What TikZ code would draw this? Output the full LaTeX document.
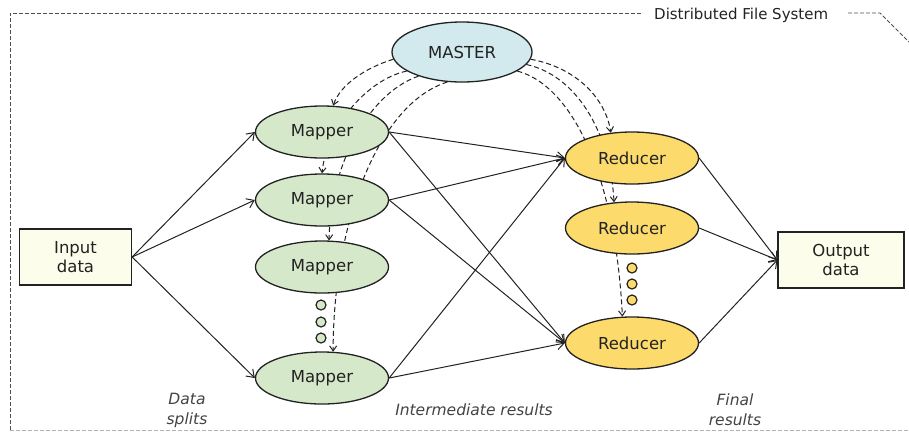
\documentclass[tikz,border=0pt]{standalone}
\usepackage{fontspec}
\setmainfont{DejaVu Sans}
\usetikzlibrary{shapes.geometric,arrows.meta,backgrounds}
\definecolor{mapfill}{HTML}{D5E8CA}
\definecolor{redfill}{HTML}{FCDB6C}
\definecolor{mastfill}{HTML}{D2EAED}
\definecolor{boxfill}{HTML}{FDFDEB}
\definecolor{ink}{HTML}{222222}
\tikzset{
  base/.style={draw=ink, line width=1.3pt, text=ink, font=\fontsize{16.5}{19}\selectfont, inner sep=0pt},
  mapper/.style={base, ellipse, fill=mapfill, minimum width=133pt, minimum height=52pt},
  reducer/.style={base, ellipse, fill=redfill, minimum width=133pt, minimum height=52pt},
  master/.style={base, ellipse, fill=mastfill, minimum width=140pt, minimum height=60pt},
  databox/.style={base, rectangle, fill=boxfill, minimum width=112pt, minimum height=56pt, align=center},
  gdot/.style={draw=ink, line width=1.2pt, circle, fill=mapfill, minimum size=10pt, inner sep=0pt},
  ydot/.style={draw=ink, line width=1.2pt, circle, fill=redfill, minimum size=10pt, inner sep=0pt},
  flow/.style={draw=ink, line width=1pt, -{Straight Barb[length=7pt,width=10pt]}},
  ctrl/.style={draw=ink, line width=1pt, dash pattern=on 5pt off 3pt, -{Straight Barb[length=5pt,width=7pt]}},
  caption/.style={text=ink!85, font=\itshape\fontsize{15.5}{20}\selectfont, align=center},
  frame/.style={draw=ink!80, line width=0.8pt, dash pattern=on 4pt off 2pt},
}
\begin{document}
\begin{tikzpicture}[x=1pt, y=-1pt]
\useasboundingbox (0,0) rectangle (909,432);

% file system frame
\coordinate (fa) at (10,430);
\coordinate (fb) at (10,13);
\coordinate (fc) at (642,13);
\coordinate (fd) at (848,13);
\coordinate (fe) at (880,13);
\coordinate (ff) at (915,48);
\coordinate (fg) at (909,430);
\node[font=\fontsize{15}{17}\selectfont, text=ink, anchor=west, inner sep=0pt] (fs) at (654,15) {Distributed File System};
\draw[frame] (fa) -- (fb) -- (fc);
\draw[frame] (fd) -- (fe) -- (ff);
\draw[draw=ink!35, line width=0.8pt, dash pattern=on 4pt off 2pt] (fa) -- (fg);

% nodes
\node[master] (ms) at (462,52) {MASTER};
\node[mapper] (m1) at (322,132) {Mapper};
\node[mapper] (m2) at (322,200) {Mapper};
\node[mapper] (m3) at (322,267) {Mapper};
\node[mapper] (m4) at (322,378) {Mapper};
\node[reducer] (r1) at (632,158) {Reducer};
\node[reducer] (r2) at (632,228) {Reducer};
\node[reducer] (r3) at (632,343) {Reducer};
\node[databox] (in) at (75.5,257) {Input\\data};
\node[databox, minimum width=126pt] (out) at (841,260) {Output\\data};

\node[gdot] (g1) at (321,305) {};
\node[gdot] (g2) at (321,322) {};
\node[gdot] (g3) at (321,338) {};
\node[ydot] (y1) at (632,268) {};
\node[ydot] (y2) at (632,284) {};
\node[ydot] (y3) at (632,300) {};

% control links from the master, behind the workers
\begin{pgfonlayer}{background}
\draw[ctrl] (ms.186) .. controls (365,68) and (340,85) .. (m1.67);
\draw[ctrl] (ms.199) .. controls (365,80) and (326,130) .. (m2.90);
\draw[ctrl] (ms.209) .. controls (365,95) and (330,170) .. (m3.75);
\draw[ctrl] (ms.244) .. controls (375,105) and (333,230) .. (m4.67);
\draw[ctrl] (ms.354) .. controls (578,68) and (606,100) .. (r1.130);
\draw[ctrl] (ms.349) .. controls (575,75) and (610,130) .. (r2.125);
\draw[ctrl] (ms.341) .. controls (570,85) and (615,170) .. (r3.110);
\end{pgfonlayer}

% data splits
\draw[flow] (in.east) -- (m1.west);
\draw[flow] (in.east) -- (m2.west);
\draw[flow] (in.east) -- (m4.west);

% intermediate results
\draw[flow] (m1.east) -- (r1.west);
\draw[flow] (m1.east) -- (r3.west);
\draw[flow] (m2.east) -- (r1.west);
\draw[flow] (m2.east) -- (r3.west);
\draw[flow] (m4.east) -- (r1.west);
\draw[flow] (m4.east) -- (r3.west);

% final results
\draw[flow] (r1.east) -- (out.west);
\draw[flow] (r2.east) -- (out.west);
\draw[flow] (r3.east) -- (out.west);

% captions
\node[caption] (c1) at (187,410) {Data\\splits};
\node[caption] (c2) at (474,410) {Intermediate results};
\node[caption] (c3) at (735,410) {Final\\results};
\end{tikzpicture}
\end{document}
